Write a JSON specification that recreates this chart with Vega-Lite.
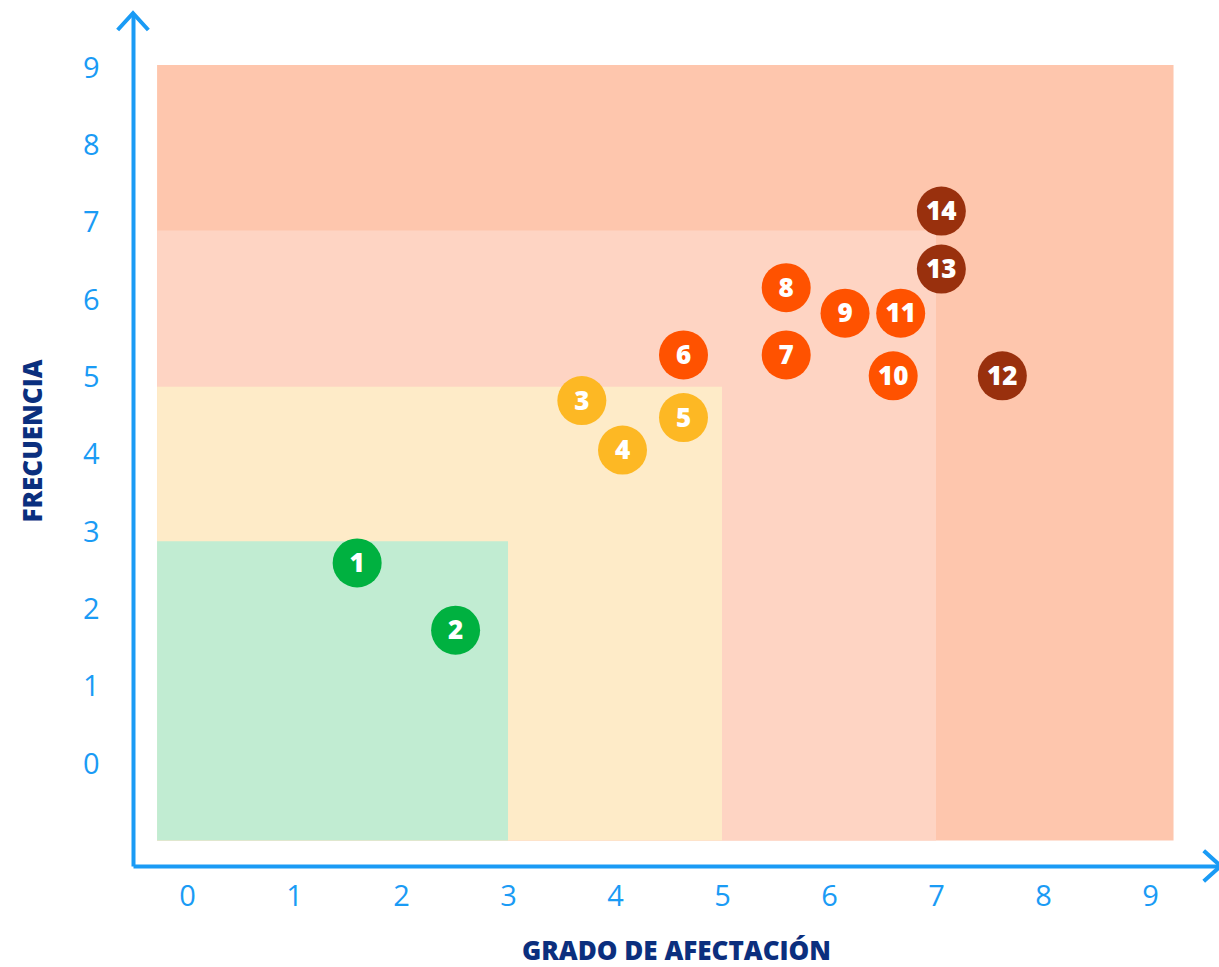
{
  "$schema": "https://vega.github.io/schema/vega-lite/v6.json",
  "width": 1086,
  "height": 851,
  "autosize": {"type": "none"},
  "padding": {"left": 133, "top": 15, "right": 0, "bottom": 101},
  "background": "white",
  "config": {"view": {"stroke": null}},
  "datasets": {
    "zones": [
      {"zona": "alto", "x1": -0.28, "x2": 9.22, "y1": -0.99, "y2": 9.04},
      {"zona": "medio-alto", "x1": -0.28, "x2": 7, "y1": -0.99, "y2": 6.9},
      {"zona": "medio", "x1": -0.28, "x2": 5, "y1": -0.99, "y2": 4.88},
      {"zona": "bajo", "x1": -0.28, "x2": 3, "y1": -0.99, "y2": 2.88}
    ],
    "riesgos": [
      {"id": "1", "afectacion": 1.59, "frecuencia": 2.6, "nivel": "bajo"},
      {"id": "2", "afectacion": 2.51, "frecuencia": 1.73, "nivel": "bajo"},
      {"id": "3", "afectacion": 3.69, "frecuencia": 4.7, "nivel": "medio"},
      {"id": "4", "afectacion": 4.07, "frecuencia": 4.06, "nivel": "medio"},
      {"id": "5", "afectacion": 4.64, "frecuencia": 4.48, "nivel": "medio"},
      {"id": "6", "afectacion": 4.64, "frecuencia": 5.29, "nivel": "medio-alto"},
      {"id": "7", "afectacion": 5.6, "frecuencia": 5.29, "nivel": "medio-alto"},
      {"id": "8", "afectacion": 5.6, "frecuencia": 6.16, "nivel": "medio-alto"},
      {"id": "9", "afectacion": 6.15, "frecuencia": 5.83, "nivel": "medio-alto"},
      {"id": "10", "afectacion": 6.6, "frecuencia": 5.02, "nivel": "medio-alto"},
      {"id": "11", "afectacion": 6.67, "frecuencia": 5.83, "nivel": "medio-alto"},
      {"id": "12", "afectacion": 7.62, "frecuencia": 5.02, "nivel": "alto"},
      {"id": "13", "afectacion": 7.05, "frecuencia": 6.4, "nivel": "alto"},
      {"id": "14", "afectacion": 7.05, "frecuencia": 7.15, "nivel": "alto"}
    ],
    "flechaY": [{"ax": -0.505, "ay": 9.71}],
    "flechaX": [{"ax": 9.66, "ay": -1.319}]
  },
  "layer": [
    {
      "data": {"name": "zones"},
      "mark": {"type": "rect"},
      "encoding": {
        "x": {
          "field": "x1", "type": "quantitative",
          "scale": {"domain": [-0.505, 9.645], "nice": false, "zero": false},
          "axis": {
            "values": [0, 1, 2, 3, 4, 5, 6, 7, 8, 9], "format": "d",
            "title": "GRADO DE AFECTACIÓN",
            "titleFont": "Open Sans", "titleFontSize": 26, "titleFontWeight": 800,
            "titleColor": "#0B2F7E", "titlePadding": 27,
            "labelFont": "Open Sans", "labelFontSize": 29, "labelFontWeight": 400,
            "labelColor": "#1A9BF5", "labelPadding": 16,
            "domainColor": "#1A9BF5", "domainWidth": 4,
            "ticks": false, "grid": false
          }
        },
        "x2": {"field": "x2"},
        "y": {
          "field": "y1", "type": "quantitative",
          "scale": {"domain": [-1.319, 9.686], "nice": false, "zero": false},
          "axis": {
            "values": [0, 1, 2, 3, 4, 5, 6, 7, 8, 9], "format": "d",
            "title": "FRECUENCIA",
            "titleFont": "Open Sans", "titleFontSize": 26, "titleFontWeight": 800,
            "titleColor": "#0B2F7E", "titlePadding": 36,
            "labelFont": "Open Sans", "labelFontSize": 29, "labelFontWeight": 400,
            "labelColor": "#1A9BF5", "labelPadding": 34,
            "domainColor": "#1A9BF5", "domainWidth": 4,
            "ticks": false, "grid": false
          }
        },
        "y2": {"field": "y2"},
        "color": {
          "field": "zona", "type": "nominal", "legend": null,
          "scale": {
            "domain": ["alto", "medio-alto", "medio", "bajo"],
            "range": ["#FEC6AD", "#FED4C3", "#FEEBC8", "#C1ECD2"]
          }
        }
      }
    },
    {
      "data": {"name": "riesgos"},
      "mark": {"type": "circle", "size": 2401, "opacity": 1},
      "encoding": {
        "x": {"field": "afectacion", "type": "quantitative"},
        "y": {"field": "frecuencia", "type": "quantitative"},
        "fill": {
          "field": "nivel", "type": "nominal", "legend": null,
          "scale": {
            "domain": ["bajo", "medio", "medio-alto", "alto"],
            "range": ["#00B140", "#FDB824", "#FF5200", "#99300D"]
          }
        }
      }
    },
    {
      "data": {"name": "riesgos"},
      "mark": {"type": "text", "font": "Open Sans", "fontSize": 26, "fontWeight": 800, "color": "white", "align": "center", "baseline": "middle", "dy": 1},
      "encoding": {
        "x": {"field": "afectacion", "type": "quantitative"},
        "y": {"field": "frecuencia", "type": "quantitative"},
        "text": {"field": "id"}
      }
    },
    {
      "data": {"name": "flechaY"},
      "mark": {"type": "point", "shape": "M-1,1.1L0,0L1,1.1", "size": 784, "filled": false, "stroke": "#1A9BF5", "strokeWidth": 4, "strokeCap": "square", "opacity": 1},
      "encoding": {
        "x": {"field": "ax", "type": "quantitative"},
        "y": {"field": "ay", "type": "quantitative"}
      }
    },
    {
      "data": {"name": "flechaX"},
      "mark": {"type": "point", "shape": "M-1.1,-1L0,0L-1.1,1", "size": 784, "filled": false, "stroke": "#1A9BF5", "strokeWidth": 4, "strokeCap": "square", "opacity": 1},
      "encoding": {
        "x": {"field": "ax", "type": "quantitative"},
        "y": {"field": "ay", "type": "quantitative"}
      }
    }
  ]
}
